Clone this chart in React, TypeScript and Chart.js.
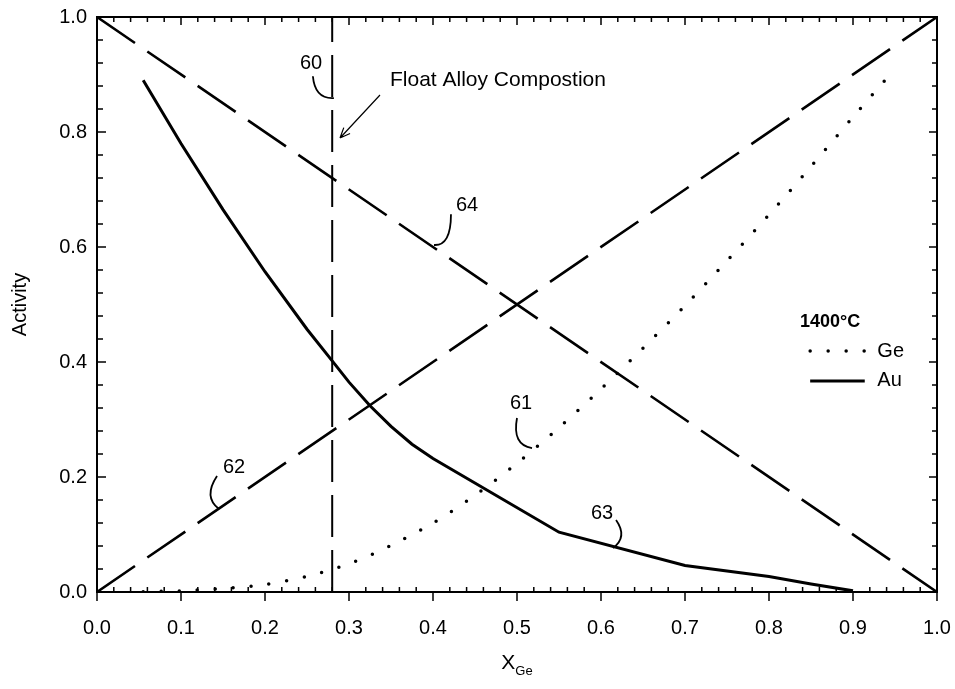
import React, { useEffect, useRef } from 'react';
import { Chart, registerables } from 'chart.js';

Chart.register(...registerables);

const FONT = "'Liberation Sans', Arial, Helvetica, sans-serif";

// ---- data ----
const idealAuX = [0, 1];
const idealAuY = [1, 0];
const idealGeX = [0, 1];
const idealGeY = [0, 1];
const floatAlloyX = [0.28, 0.28];
const floatAlloyY = [0, 1];

const auX = [0.055, 0.1, 0.15, 0.2, 0.25, 0.28, 0.3, 0.325, 0.35, 0.375, 0.4, 0.55, 0.7, 0.8, 0.85, 0.9];
const auY = [0.89, 0.78, 0.665, 0.557, 0.457, 0.402, 0.365, 0.324, 0.288, 0.257, 0.232, 0.104, 0.046, 0.027, 0.014, 0.002];

const geX = [0.055, 0.1, 0.15, 0.2, 0.25, 0.3, 0.35, 0.4, 0.45, 0.5, 0.55, 0.6, 0.65, 0.7, 0.75, 0.8, 0.85, 0.9, 0.95];
const geY = [0.0005, 0.002, 0.006, 0.013, 0.027, 0.049, 0.081, 0.12, 0.168, 0.224, 0.286, 0.353, 0.424, 0.498, 0.576, 0.656, 0.74, 0.826, 0.91];

const xTickStep = 0.1;
const yTickStep = 0.2;
const legendTitle = '1400°C';
const legendLabels = ['Ge', 'Au'];
const yTitle = 'Activity';
const xTitleMain = 'X';
const xTitleSub = 'Ge';
const noteText = 'Float Alloy Compostion';

// ---- annotation layout (data coordinates) ----
const callouts = [
  { text: '60', tx: 0.2548, ty: 0.92, hook: [[0.257, 0.897], [0.2595, 0.857], [0.282, 0.859]] },
  { text: '64', tx: 0.4405, ty: 0.673, hook: [[0.4214, 0.657], [0.4214, 0.6017], [0.4012, 0.6035]] },
  { text: '62', tx: 0.1631, ty: 0.2174, hook: [[0.1429, 0.2017], [0.1262, 0.1652], [0.1452, 0.1443]] },
  { text: '63', tx: 0.6012, ty: 0.1374, hook: [[0.6179, 0.1252], [0.6321, 0.0957], [0.6143, 0.0765]] },
  { text: '61', tx: 0.5048, ty: 0.3287, hook: [[0.5, 0.3026], [0.494, 0.2557], [0.5179, 0.2504]] },
];
const notePos = { x: 0.3488, y: 0.8904 };
const arrowFrom = { x: 0.3369, y: 0.8643 };
const arrowTo = { x: 0.2893, y: 0.7896 };
const legendPos = { titleX: 0.837, titleY: 0.47, lineX0: 0.849, lineX1: 0.914, textX: 0.929, rowY: [0.419, 0.367] };

const zip = (xs: number[], ys: number[]) => xs.map((x, i) => ({ x, y: ys[i] }));

const decorPlugin = {
  id: 'decor',
  afterDatasetsDraw(chart: any) {
    const { ctx, chartArea: a, scales } = chart;
    const xs = scales.x, ys = scales.y;
    const X = (v: number) => xs.getPixelForValue(v);
    const Y = (v: number) => ys.getPixelForValue(v);
    ctx.save();
    ctx.strokeStyle = '#000';
    ctx.fillStyle = '#000';
    // frame
    ctx.lineWidth = 2;
    ctx.strokeRect(a.left, a.top, a.right - a.left, a.bottom - a.top);
    // ticks
    ctx.lineWidth = 1.5;
    for (let i = 0; i <= 50; i++) {
      const px = X(i / 50);
      const major = i % 5 === 0;
      ctx.beginPath();
      if (major) { ctx.moveTo(px, a.bottom); ctx.lineTo(px, a.bottom + 9); }
      else { ctx.moveTo(px, a.bottom); ctx.lineTo(px, a.bottom - 5); }
      ctx.moveTo(px, a.top); ctx.lineTo(px, a.top + (major ? 8 : 5));
      ctx.stroke();
    }
    for (let i = 0; i <= 25; i++) {
      const py = Y(i / 25);
      const major = i % 5 === 0;
      ctx.beginPath();
      ctx.moveTo(a.left, py); ctx.lineTo(a.left + (major ? 9 : 6), py);
      ctx.moveTo(a.right, py); ctx.lineTo(a.right - (major ? 8 : 5), py);
      ctx.stroke();
    }
    // callouts
    ctx.font = `20px ${FONT}`;
    ctx.textAlign = 'center';
    ctx.textBaseline = 'middle';
    ctx.lineWidth = 1.8;
    callouts.forEach((c) => {
      ctx.fillText(c.text, X(c.tx), Y(c.ty));
      const [p0, p1, p2] = c.hook;
      ctx.beginPath();
      ctx.moveTo(X(p0[0]), Y(p0[1]));
      ctx.quadraticCurveTo(X(p1[0]), Y(p1[1]), X(p2[0]), Y(p2[1]));
      ctx.stroke();
    });
    // note + arrow
    ctx.font = `21px ${FONT}`;
    ctx.textAlign = 'left';
    ctx.fillText(noteText, X(notePos.x), Y(notePos.y));
    const ax0 = X(arrowFrom.x), ay0 = Y(arrowFrom.y), ax1 = X(arrowTo.x), ay1 = Y(arrowTo.y);
    ctx.lineWidth = 1.2;
    ctx.beginPath();
    ctx.moveTo(ax0, ay0); ctx.lineTo(ax1, ay1);
    const ang = Math.atan2(ay1 - ay0, ax1 - ax0);
    const hl = 11;
    ctx.moveTo(ax1, ay1); ctx.lineTo(ax1 - hl * Math.cos(ang - 0.4), ay1 - hl * Math.sin(ang - 0.4));
    ctx.moveTo(ax1, ay1); ctx.lineTo(ax1 - hl * Math.cos(ang + 0.4), ay1 - hl * Math.sin(ang + 0.4));
    ctx.stroke();
    // legend
    ctx.font = `bold 18px ${FONT}`;
    ctx.fillText(legendTitle, X(legendPos.titleX), Y(legendPos.titleY));
    ctx.font = `20px ${FONT}`;
    const legendSets = [chart.data.datasets[4], chart.data.datasets[3]];
    legendSets.forEach((ds: any, i: number) => {
      const py = Y(legendPos.rowY[i]);
      ctx.save();
      ctx.lineWidth = ds.borderWidth;
      ctx.setLineDash(ds.borderDash || []);
      ctx.lineCap = ds.borderCapStyle || 'butt';
      ctx.beginPath();
      ctx.moveTo(X(legendPos.lineX0), py);
      ctx.lineTo(X(legendPos.lineX1), py);
      ctx.stroke();
      ctx.restore();
      ctx.fillText(legendLabels[i], X(legendPos.textX), py);
    });
    // x title with subscript
    ctx.font = `21px ${FONT}`;
    const wMain = ctx.measureText(xTitleMain).width;
    ctx.font = `13px ${FONT}`;
    const wSub = ctx.measureText(xTitleSub).width;
    const cx = (a.left + a.right) / 2;
    const sx = cx - (wMain + wSub) / 2;
    const ty = a.bottom + 71;
    ctx.font = `21px ${FONT}`;
    ctx.fillText(xTitleMain, sx, ty);
    ctx.font = `13px ${FONT}`;
    ctx.fillText(xTitleSub, sx + wMain, ty + 8);
    ctx.restore();
  },
};

export default function App() {
  const ref = useRef<HTMLCanvasElement | null>(null);
  useEffect(() => {
    document.body.style.margin = '0';
    const chart = new Chart(ref.current as HTMLCanvasElement, {
      type: 'scatter',
      data: {
        datasets: [
          { label: 'ideal Au', data: zip(idealAuX, idealAuY), showLine: true, borderColor: '#000', borderWidth: 2.6, borderDash: [46, 15], pointRadius: 0 },
          { label: 'ideal Ge', data: zip(idealGeX, idealGeY), showLine: true, borderColor: '#000', borderWidth: 2.6, borderDash: [46, 15], pointRadius: 0 },
          { label: 'float alloy', data: zip(floatAlloyX, floatAlloyY), showLine: true, borderColor: '#000', borderWidth: 2, borderDash: [42, 13], pointRadius: 0 },
          { label: 'Au', data: zip(auX, auY), showLine: true, borderColor: '#000', borderWidth: 3, pointRadius: 0, tension: 0 },
          { label: 'Ge', data: zip(geX, geY), showLine: true, borderColor: '#000', borderWidth: 3.5, borderDash: [0, 18], borderCapStyle: 'round', pointRadius: 0, tension: 0.3 },
        ] as any,
      },
      options: {
        animation: false,
        responsive: false,
        layout: { padding: { left: 0, right: 18, top: 17, bottom: 0 } },
        plugins: { legend: { display: false }, tooltip: { enabled: false } },
        scales: {
          x: {
            type: 'linear', min: 0, max: 1,
            grid: { display: false, drawTicks: false },
            border: { display: false },
            ticks: { stepSize: xTickStep, padding: 24, color: '#000', font: { family: FONT, size: 20 }, callback: (v: any) => Number(v).toFixed(1), maxRotation: 0 },
            afterFit: (s: any) => { s.height = 97; s.paddingLeft = 0; s.paddingRight = 0; },
          },
          y: {
            type: 'linear', min: 0, max: 1,
            grid: { display: false, drawTicks: false },
            border: { display: false },
            ticks: { stepSize: yTickStep, padding: 10, color: '#000', font: { family: FONT, size: 20 }, callback: (v: any) => Number(v).toFixed(1) },
            title: { display: true, text: yTitle, color: '#000', font: { family: FONT, size: 20 }, padding: { top: 8, bottom: 0 } },
            afterFit: (s: any) => { s.width = 97; s.paddingTop = 0; s.paddingBottom = 0; },
          },
        },
      } as any,
      plugins: [decorPlugin],
    });
    return () => chart.destroy();
  }, []);
  return (
    <div style={{ width: 955, height: 689, background: '#fff' }}>
      <canvas ref={ref} width={955} height={689} />
    </div>
  );
}
